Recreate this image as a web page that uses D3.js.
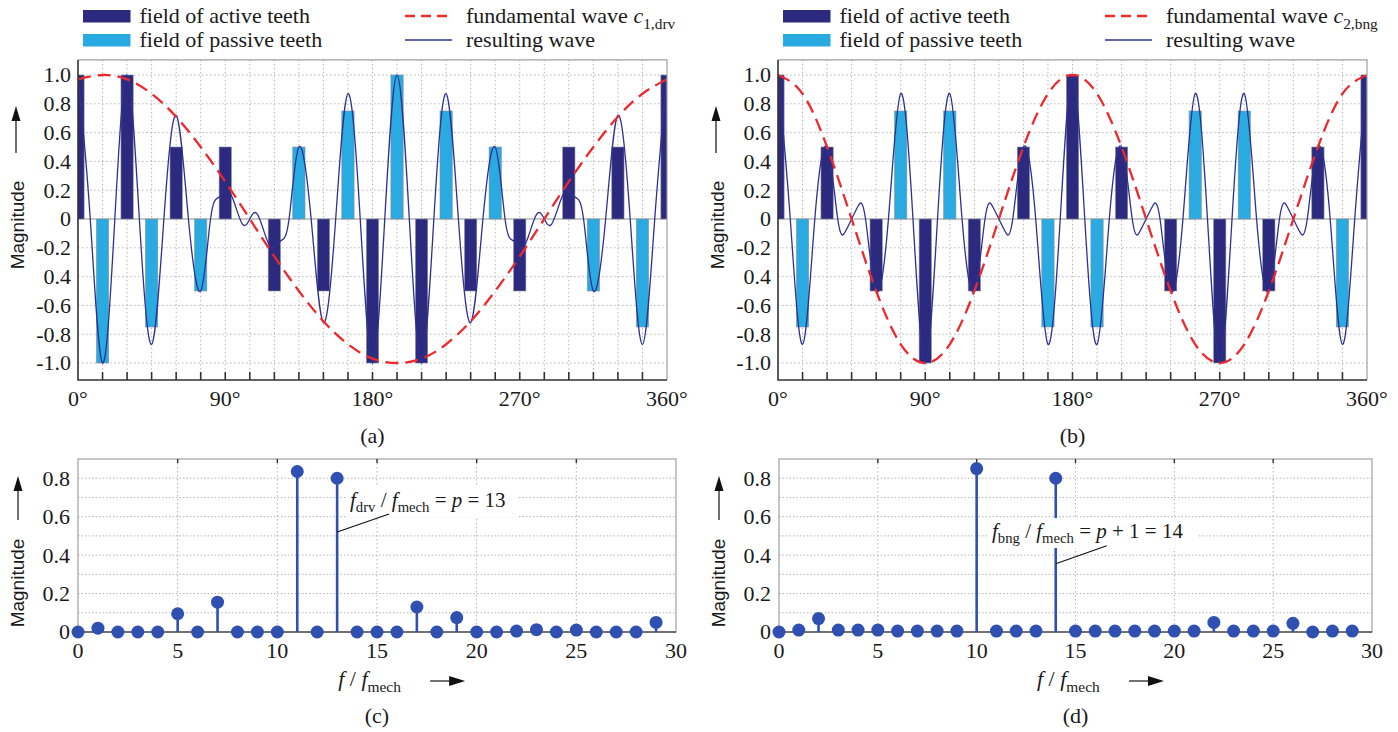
<!DOCTYPE html>
<html>
<head>
<meta charset="utf-8">
<script src="https://cdn.jsdelivr.net/npm/d3@7"></script>
<style>
body { margin: 0; background: #fff; }
svg text { font-family: "Liberation Serif", "Times New Roman", serif; white-space: pre; }
svg text.sans { font-family: "Liberation Sans", Arial, sans-serif; }
</style>
</head>
<body>
<script>
// ---- data ----
var toothAngles = [0, 15, 30, 45, 60, 75, 90, 105, 120, 135, 150, 165, 180,
                   195, 210, 225, 240, 255, 270, 285, 300, 315, 330, 345, 360];
var angleTicks = [0, 90, 180, 270, 360];
var magTicks = [1.0, 0.8, 0.6, 0.4, 0.2, 0, -0.2, -0.4, -0.6, -0.8, -1.0];
var magLabels = ["1.0", "0.8", "0.6", "0.4", "0.2", "0", "-0.2", "0.4", "-0.6", "-0.8", "-1.0"];

// tooth fields (even index = active teeth, odd index = passive teeth)
var teethA = [1, -1, 1, -0.75, 0.5, -0.5, 0.5, 0, -0.5, 0.5, -0.5, 0.75, -1,
              1, -1, 0.75, -0.5, 0.5, -0.5, 0, 0.5, -0.5, 0.5, -0.75, 1];
var teethB = [1, -0.75, 0.5, 0, -0.5, 0.75, -1, 0.75, -0.5, 0, 0.5, -0.75, 1,
              -0.75, 0.5, 0, -0.5, 0.75, -1, 0.75, -0.5, 0, 0.5, -0.75, 1];

// fundamental waves, sampled at the tooth angles
var fundA = [0.97, 1.0, 0.97, 0.87, 0.71, 0.5, 0.26, 0, -0.26, -0.5, -0.71, -0.87, -0.97,
             -1.0, -0.97, -0.87, -0.71, -0.5, -0.26, 0, 0.26, 0.5, 0.71, 0.87, 0.97];
var fundB = [1.0, 0.87, 0.5, 0, -0.5, -0.87, -1.0, -0.87, -0.5, 0, 0.5, 0.87, 1.0,
             0.87, 0.5, 0, -0.5, -0.87, -1.0, -0.87, -0.5, 0, 0.5, 0.87, 1.0];

// resulting waves [angle, magnitude]
var waveA = [[0,1.0],[7.5,0],[15,-1.0],[22.5,0],[30,1.0],[37.5,0],[45,-0.87],[52.5,0],
  [60,0.72],[67.5,0],[75,-0.5],[81,0],[86,0.15],[90.5,0.2],[95,0.13],[100.5,-0.035],
  [105,0],[109.5,0.035],[115,-0.13],[119.5,-0.2],[124,-0.15],[129,0],[135,0.5],
  [142.5,0],[150,-0.72],[157.5,0],[165,0.87],[172.5,0],[180,-1.0],
  [187.5,0],[195,1.0],[202.5,0],[210,-1.0],[217.5,0],[225,0.87],[232.5,0],[240,-0.72],
  [247.5,0],[255,0.5],[261,0],[266,-0.15],[270.5,-0.2],[275,-0.13],[280.5,0.035],
  [285,0],[289.5,-0.035],[295,0.13],[299.5,0.2],[304,0.15],[309,0],[315,-0.5],
  [322.5,0],[330,0.72],[337.5,0],[345,-0.87],[352.5,0],[360,1.0]];
var waveB = [[0,1.0],[7.5,0],[15,-0.87],[22.5,0],[30,0.5],[36.5,0],[41,-0.09],
  [45,0],[49,0.09],[53.5,0],[60,-0.5],[67.5,0],[75,0.87],[82.5,0],[90,-1.0],
  [97.5,0],[105,0.87],[112.5,0],[120,-0.5],[126.5,0],[131,0.09],[135,0],
  [139,-0.09],[143.5,0],[150,0.5],[157.5,0],[165,-0.87],[172.5,0],[180,1.0],
  [187.5,0],[195,-0.87],[202.5,0],[210,0.5],[216.5,0],[221,-0.09],[225,0],
  [229,0.09],[233.5,0],[240,-0.5],[247.5,0],[255,0.87],[262.5,0],[270,-1.0],
  [277.5,0],[285,0.87],[292.5,0],[300,-0.5],[306.5,0],[311,0.09],[315,0],
  [319,-0.09],[323.5,0],[330,0.5],[337.5,0],[345,-0.87],[352.5,0],[360,1.0]];

// spectra
var orders = [0,1,2,3,4,5,6,7,8,9,10,11,12,13,14,15,16,17,18,19,20,21,22,23,24,25,26,27,28,29];
var specC = [0, 0.02, 0, 0, 0, 0.095, 0, 0.155, 0, 0, 0, 0.835, 0, 0.80, 0, 0,
             0, 0.13, 0, 0.075, 0, 0, 0.005, 0.012, 0, 0.01, 0, 0, 0, 0.05];
var specD = [0, 0.01, 0.07, 0.01, 0.01, 0.01, 0.005, 0.005, 0.005, 0.005, 0.85, 0.005, 0.005, 0.005, 0.80,
             0.005, 0.005, 0.005, 0.005, 0.005, 0.005, 0.005, 0.05, 0.005, 0.005, 0.005, 0.045, 0, 0.005, 0.005];
var orderTicks = [0, 5, 10, 15, 20, 25, 30];
var specTicks = [0.8, 0.6, 0.4, 0.2, 0];
var specGrid = [0.1, 0.2, 0.3, 0.4, 0.5, 0.6, 0.7, 0.8];

var activeColor = "#2c2a7e",
    passiveColor = "#29aae1",
    waveColor = "#2e3192",
    fundColor = "#ec2a2e",
    stemColor = "#2f50b0",
    gridColor = "#b4b4b4",
    textColor = "#1a1a1a";

var svg = d3.select("body").append("svg")
    .attr("width", 1398)
    .attr("height", 732);

// text with italic / subscript parts
function richText(g, parts, size) {
  var t = g.append("text").attr("font-size", size).attr("fill", textColor);
  var low = false;
  parts.forEach(function(p) {
    var ts = t.append("tspan").text(p[0]);
    if (p[1] === "i") ts.attr("font-style", "italic");
    if (p[1] === "s") {
      ts.attr("font-size", size * 0.7);
      if (!low) ts.attr("dy", size * 0.25);
      low = true;
    } else if (low) {
      ts.attr("dy", -size * 0.25);
      low = false;
    }
  });
  return t;
}

function vArrow(g, x, yTip, yEnd) {
  g.append("line").attr("x1", x).attr("x2", x).attr("y1", yTip + 12).attr("y2", yEnd)
    .attr("stroke", "#111").attr("stroke-width", 1.2);
  g.append("path").attr("d", "M" + x + "," + yTip + "L" + (x - 4.5) + "," + (yTip + 15) + "L" + (x + 4.5) + "," + (yTip + 15) + "Z")
    .attr("fill", "#111");
}

function hArrow(g, xStart, xTip, y) {
  g.append("line").attr("x1", xStart).attr("x2", xTip - 12).attr("y1", y).attr("y2", y)
    .attr("stroke", "#111").attr("stroke-width", 1.2);
  g.append("path").attr("d", "M" + xTip + "," + y + "L" + (xTip - 16) + "," + (y - 5) + "L" + (xTip - 16) + "," + (y + 5) + "Z")
    .attr("fill", "#111");
}

function wavePanel(ox, teeth, fund, wave, subLabel, panelName) {
  var x = d3.scaleLinear().domain([0, 360]).range([ox, ox + 589]);
  var y = d3.scaleLinear().domain([-1, 1]).range([363, 75]);
  var top = y(1.105), bottom = 380;
  var g = svg.append("g");
  var clipId = "clip" + panelName;

  svg.append("clipPath").attr("id", clipId).append("rect")
      .attr("x", x(0)).attr("y", top)
      .attr("width", x(360) - x(0)).attr("height", bottom - top);

  // grid
  g.append("g").selectAll("line")
      .data(toothAngles.slice(1, -1)).enter().append("line")
      .attr("x1", function(d) { return x(d); }).attr("x2", function(d) { return x(d); })
      .attr("y1", top).attr("y2", bottom - 8)
      .attr("stroke", gridColor).attr("stroke-dasharray", "1.5,2.5");
  g.append("g").selectAll("line")
      .data(magTicks.filter(function(d) { return d !== 0; })).enter().append("line")
      .attr("x1", x(0)).attr("x2", x(360))
      .attr("y1", function(d) { return y(d); }).attr("y2", function(d) { return y(d); })
      .attr("stroke", gridColor).attr("stroke-dasharray", "1.5,2.5");

  g.append("line").attr("x1", x(0)).attr("x2", x(360)).attr("y1", y(0)).attr("y2", y(0))
      .attr("stroke", "#909090").attr("stroke-width", 1.2);

  // tooth fields
  var bw = x(7.5) - x(0);
  var fields = teeth.map(function(v, i) {
    return {a: toothAngles[i], v: v, passive: i % 2 === 1};
  }).filter(function(d) { return d.v !== 0; });

  g.append("g").attr("clip-path", "url(#" + clipId + ")")
    .selectAll("rect").data(fields).enter().append("rect")
      .attr("x", function(d) { return x(d.a) - bw / 2; })
      .attr("y", function(d) { return y(Math.max(0, d.v)); })
      .attr("width", bw)
      .attr("height", function(d) { return Math.abs(y(d.v) - y(0)); })
      .attr("fill", function(d) { return d.passive ? passiveColor : activeColor; })
      .attr("stroke", "#8a8f9a").attr("stroke-width", 0.6);

  var line = d3.line()
      .x(function(d) { return x(d[0]); })
      .y(function(d) { return y(d[1]); })
      .curve(d3.curveNatural);

  g.append("path").attr("clip-path", "url(#" + clipId + ")")
      .datum(wave).attr("d", line)
      .attr("fill", "none").attr("stroke", waveColor).attr("stroke-width", 1.3);

  g.append("path").attr("clip-path", "url(#" + clipId + ")")
      .datum(fund.map(function(v, i) { return [toothAngles[i], v]; }))
      .attr("d", line)
      .attr("fill", "none").attr("stroke", fundColor).attr("stroke-width", 2.3)
      .attr("stroke-dasharray", "13,7");

  // frame
  g.append("path")
      .attr("d", "M" + x(0) + "," + top + "H" + x(360) + "V" + bottom)
      .attr("fill", "none").attr("stroke", "#a0a0a0").attr("stroke-width", 1.2);
  g.append("path")
      .attr("d", "M" + x(0) + "," + top + "V" + bottom + "H" + x(360))
      .attr("fill", "none").attr("stroke", "#333").attr("stroke-width", 1.6);
  g.append("g").selectAll("line")
      .data(toothAngles.slice(1, -1)).enter().append("line")
      .attr("x1", function(d) { return x(d); }).attr("x2", function(d) { return x(d); })
      .attr("y1", bottom).attr("y2", bottom - 8)
      .attr("stroke", "#333").attr("stroke-width", 1.6);

  // tick labels
  g.append("g").selectAll("text")
      .data(magTicks).enter().append("text")
      .attr("x", ox - 7).attr("y", function(d) { return y(d); }).attr("dy", "0.34em")
      .attr("text-anchor", "end").attr("font-size", 22).attr("fill", textColor)
      .text(function(d, i) { return magLabels[i]; });
  g.append("g").selectAll("text")
      .data(angleTicks).enter().append("text")
      .attr("x", function(d) { return x(d); }).attr("y", 406)
      .attr("text-anchor", "middle").attr("font-size", 22).attr("fill", textColor)
      .text(function(d) { return d + "\u00b0"; });

  g.append("text").attr("x", x(180)).attr("y", 443)
      .attr("text-anchor", "middle").attr("font-size", 22).attr("fill", textColor)
      .text("(" + panelName + ")");

  // y label
  g.append("text").attr("class", "sans")
      .attr("transform", "translate(" + (ox - 54) + ",225)rotate(-90)")
      .attr("text-anchor", "middle").attr("font-size", 19).attr("fill", textColor)
      .text("Magnitude");
  vArrow(g, ox - 62, 106, 153);

  // legend
  var lg = svg.append("g").attr("fill", textColor);
  lg.append("rect").attr("x", ox + 5).attr("y", 10).attr("width", 47.5).attr("height", 12.5).attr("fill", activeColor);
  lg.append("rect").attr("x", ox + 5).attr("y", 34).attr("width", 47.5).attr("height", 12.5).attr("fill", passiveColor);
  lg.append("text").attr("x", ox + 61.5).attr("y", 23).attr("font-size", 22).text("field of active teeth");
  lg.append("text").attr("x", ox + 61.5).attr("y", 47).attr("font-size", 22).text("field of passive teeth");
  lg.append("line").attr("x1", ox + 327).attr("x2", ox + 373).attr("y1", 16).attr("y2", 16)
      .attr("stroke", fundColor).attr("stroke-width", 2.3).attr("stroke-dasharray", "10,6");
  lg.append("line").attr("x1", ox + 327).attr("x2", ox + 374).attr("y1", 40).attr("y2", 40)
      .attr("stroke", waveColor).attr("stroke-width", 1.5);
  richText(lg, [["fundamental wave ", ""], ["c", "i"], [subLabel, "s"]], 22)
      .attr("x", ox + 388).attr("y", 23);
  lg.append("text").attr("x", ox + 388).attr("y", 47).attr("font-size", 22).text("resulting wave");
}

function specPanel(x0, x1, spec, panelName, annot) {
  var x = d3.scaleLinear().domain([0, 30]).range([x0, x1]);
  var y = d3.scaleLinear().domain([0, 0.9]).range([632, 459]);
  var g = svg.append("g");

  g.append("g").selectAll("line")
      .data(specGrid).enter().append("line")
      .attr("x1", x(0)).attr("x2", x(30))
      .attr("y1", function(d) { return y(d); }).attr("y2", function(d) { return y(d); })
      .attr("stroke", gridColor).attr("stroke-dasharray", "1.5,2");
  g.append("g").selectAll("line")
      .data(orderTicks.slice(1, -1)).enter().append("line")
      .attr("x1", function(d) { return x(d); }).attr("x2", function(d) { return x(d); })
      .attr("y1", y(0.9)).attr("y2", y(0))
      .attr("stroke", gridColor).attr("stroke-dasharray", "1.5,2.5");

  g.append("rect").attr("x", x(0)).attr("y", y(0.9))
      .attr("width", x(30) - x(0)).attr("height", y(0) - y(0.9))
      .attr("fill", "none").attr("stroke", "#a0a0a0").attr("stroke-width", 1.2);
  g.append("line").attr("x1", x(0)).attr("x2", x(30)).attr("y1", y(0)).attr("y2", y(0))
      .attr("stroke", "#555").attr("stroke-width", 1.4);
  g.append("g").selectAll("line")
      .data(orderTicks.slice(1, -1)).enter().append("line")
      .attr("x1", function(d) { return x(d); }).attr("x2", function(d) { return x(d); })
      .attr("y1", y(0.9)).attr("y2", y(0.9) + 4)
      .attr("stroke", "#333").attr("stroke-width", 1.4);

  // stems
  var pts = spec.map(function(v, i) { return {k: orders[i], v: v}; });
  g.append("g").selectAll("line")
      .data(pts).enter().append("line")
      .attr("x1", function(d) { return x(d.k); }).attr("x2", function(d) { return x(d.k); })
      .attr("y1", y(0)).attr("y2", function(d) { return y(d.v); })
      .attr("stroke", stemColor).attr("stroke-width", 2.6);

  // annotation with a white box that hides grid and stem behind the text
  if (annot) {
    g.append("rect").attr("x", annot.tx - 4).attr("y", annot.ty - 20)
        .attr("width", annot.w).attr("height", 30).attr("fill", "#fff");
    richText(g, annot.parts, 21).attr("x", annot.tx).attr("y", annot.ty);
    g.append("line")
        .attr("x1", x(annot.k)).attr("y1", y(annot.at))
        .attr("x2", x(annot.k) + annot.dx).attr("y2", y(annot.at) - annot.dy)
        .attr("stroke", "#111").attr("stroke-width", 1.2);
  }

  g.append("g").selectAll("circle")
      .data(pts).enter().append("circle")
      .attr("cx", function(d) { return x(d.k); }).attr("cy", function(d) { return y(d.v); })
      .attr("r", 6.5).attr("fill", stemColor);

  g.append("g").selectAll("text")
      .data(specTicks).enter().append("text")
      .attr("x", x0 - 8).attr("y", function(d) { return y(d); }).attr("dy", "0.34em")
      .attr("text-anchor", "end").attr("font-size", 22).attr("fill", textColor)
      .text(function(d) { return d === 0 ? "0" : d.toFixed(1); });
  g.append("g").selectAll("text")
      .data(orderTicks).enter().append("text")
      .attr("x", function(d) { return x(d); }).attr("y", 658)
      .attr("text-anchor", "middle").attr("font-size", 22).attr("fill", textColor)
      .text(function(d) { return d; });

  var xm = x(13) + 1;
  richText(g, [["f", "i"], [" / ", ""], ["f", "i"], ["mech", "s"]], 22)
      .attr("x", xm).attr("y", 686);
  hArrow(g, xm + 92, xm + 127, 681);

  g.append("text").attr("x", x(15)).attr("y", 723)
      .attr("text-anchor", "middle").attr("font-size", 22).attr("fill", textColor)
      .text("(" + panelName + ")");

  g.append("text").attr("class", "sans")
      .attr("transform", "translate(" + (x0 - 54) + ",583)rotate(-90)")
      .attr("text-anchor", "middle").attr("font-size", 19).attr("fill", textColor)
      .text("Magnitude");
  vArrow(g, x0 - 60, 476, 520);
}

wavePanel(78, teethA, fundA, waveA, "1,drv", "a");
wavePanel(778, teethB, fundB, waveB, "2,bng", "b");

specPanel(78, 676, specC, "c", {
  k: 13, at: 0.52, dx: 52, dy: 18, tx: 350, ty: 507, w: 172,
  parts: [["f", "i"], ["drv", "s"], [" / ", ""], ["f", "i"], ["mech", "s"], [" = ", ""], ["p", "i"], [" = 13", ""]]
});
specPanel(779, 1372, specD, "d", {
  k: 14, at: 0.355, dx: 51, dy: 18, tx: 992, ty: 538, w: 210,
  parts: [["f", "i"], ["bng", "s"], [" / ", ""], ["f", "i"], ["mech", "s"], [" = ", ""], ["p", "i"], [" + 1 = 14", ""]]
});
</script>
</body>
</html>
